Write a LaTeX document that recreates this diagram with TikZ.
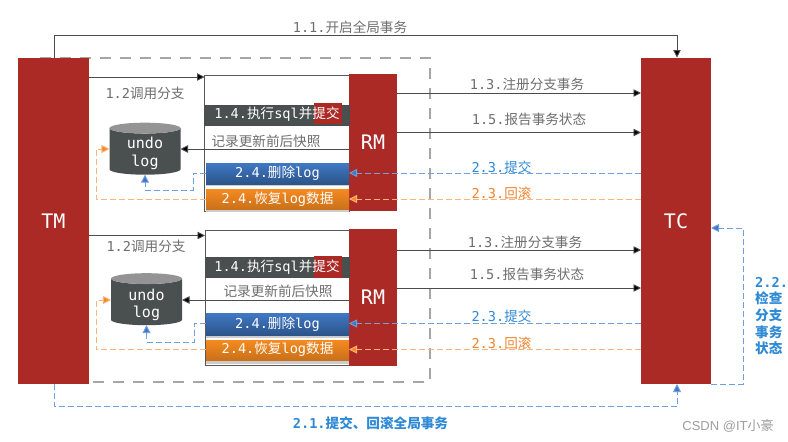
\documentclass[tikz,border=0pt]{standalone}
\usepackage{fontspec}
\setmainfont{DejaVu Sans Mono}
\newfontfamily\mo{DejaVu Sans Mono}
\newfontfamily\cjk{Noto Sans CJK SC}
\newfontfamily\wm{Liberation Sans}
\usetikzlibrary{arrows.meta,shapes.geometric}
\definecolor{brick}{HTML}{AB2A26}
\definecolor{darkbar}{HTML}{4A4F4F}
\definecolor{lblgray}{HTML}{6E6E6E}
\definecolor{lblblue}{HTML}{2F8AD6}
\definecolor{lblorange}{HTML}{F0842C}
\definecolor{dashblue}{HTML}{6F9FDC}
\definecolor{dashorange}{HTML}{FFB27A}
\definecolor{tipblue}{HTML}{3F78C4}
\definecolor{tiporange}{HTML}{F58A20}
\newcommand{\fs}[1]{\fontsize{#1}{#1}\selectfont}
\newcommand{\rectnode}[7]{%
  \pgfmathsetmacro{\cxx}{(#2+#4)/2}\pgfmathsetmacro{\cyy}{(#3+#5)/2}%
  \pgfmathsetmacro{\wdd}{#4-#2}\pgfmathsetmacro{\htt}{#5-#3}%
  \node[#6,minimum width=\wdd pt,minimum height=\htt pt] (#1) at (\cxx,\cyy) {#7};}
\tikzset{
  x=1pt,y=-1pt,
  block/.style={fill=brick,draw=none,inner sep=0pt,outer sep=0pt,text=white,font=\mo\fs{20}},
  whitebox/.style={fill=white,draw=black!65,line width=.9pt,inner sep=0pt,outer sep=0pt},
  barbox/.style={fill=darkbar,draw=black!70,line width=.4pt,inner sep=0pt,outer sep=0pt},
  redpatch/.style={fill=brick,draw=none,inner sep=0pt,outer sep=0pt},
  bluebar/.style={top color=tipblue,bottom color=tipblue!70!black,draw=none,inner sep=0pt,outer sep=0pt},
  orangebar/.style={top color=tiporange,bottom color=tiporange!82!black,draw=none,inner sep=0pt,outer sep=0pt},
  shadowbar/.style={fill=black!20,draw=none,inner sep=0pt,outer sep=0pt},
  lbl/.style={inner sep=0pt,font=\mo\fs{13.6},text=lblgray},
  barlbl/.style={inner sep=0pt,font=\mo\fs{13.6},text=white},
  bluelbl/.style={lbl,text=lblblue},
  orangelbl/.style={lbl,text=lblorange},
  dblbl/.style={inner sep=0pt,text=white,font=\mo\fs{15}},
  solidarrow/.style={draw=black!70,line width=.9pt,-{Triangle[length=7.5pt,width=7.5pt,fill=black]}},
  bluedash/.style={draw=dashblue,line width=.9pt,dash pattern=on 6pt off 3pt,-{Triangle[length=8pt,width=8pt,fill=tipblue]}},
  orangedash/.style={draw=dashorange,line width=.9pt,dash pattern=on 6pt off 3pt,-{Triangle[length=8pt,width=8pt,fill=tiporange]}},
  scopebox/.style={draw=black!35,line width=2.5pt,dash pattern=on 11pt off 9pt},
  undodb/.style={cylinder,shape border rotate=90,aspect=.3,draw=none,inner sep=0pt,outer sep=0pt,
    cylinder uses custom fill,cylinder body fill=darkbar,cylinder end fill=black!42,font=\mo\fs{15},align=center},
}
\begin{document}
\begin{tikzpicture}
\path[use as bounding box,fill=white] (0,0) rectangle (788,442);

% scope
\coordinate (sa) at (40,58); \coordinate (sb) at (430,58);
\coordinate (sc) at (430,382); \coordinate (sd) at (89,382);
\draw[scopebox] (sa) -- (sb) -- (sc) -- (sd);

% main blocks
\rectnode{tm}{18}{57.5}{89}{384}{block}{TM}
\rectnode{tc}{641}{57.5}{711}{384}{block}{TC}

% upper branch
\rectnode{boxa}{204.5}{75}{349}{211}{whitebox}{}
\rectnode{rma}{349}{74}{397}{211}{block}{RM}
\rectnode{bara}{204.5}{105}{349}{125}{barbox}{}
\rectnode{reda}{314}{103}{342}{124}{redpatch}{}
\node[barlbl] (barta) at (277,114.5) {1.4.{\cjk 执行}sql{\cjk 并提交}};
\node[lbl] (snapa) at (266,141) {\cjk 记录更新前后快照};
\rectnode{shba}{206}{182}{349}{186}{shadowbar}{}
\rectnode{blua}{206}{163}{349}{184}{bluebar}{}
\rectnode{shoa}{206}{208}{349}{212}{shadowbar}{}
\rectnode{orna}{206}{189}{349}{209.5}{orangebar}{}
\node[barlbl] (bluta) at (277.5,173.5) {2.4.{\cjk 删除}log};
\node[barlbl] (orlta) at (277.5,199) {2.4.{\cjk 恢复}log{\cjk 数据}};
\node[undodb,minimum width=71pt,minimum height=52pt] (dba) at (145,151.5) {\phantom{undo}\\[5pt]\phantom{log}};
\node[dblbl] (undoa) at (145,143) {undo};
\node[dblbl] (loga) at (145,162) {log};

% lower branch
\rectnode{boxb}{205}{230}{349}{365.5}{whitebox}{}
\rectnode{rmb}{349}{229}{397}{366}{block}{RM}
\rectnode{barb}{205}{257}{349}{277.5}{barbox}{}
\rectnode{redb}{314}{256}{342}{278}{redpatch}{}
\node[barlbl] (bartb) at (277,267) {1.4.{\cjk 执行}sql{\cjk 并提交}};
\node[lbl] (snapb) at (278,291.5) {\cjk 记录更新前后快照};
\rectnode{shbb}{206}{333}{349}{338}{shadowbar}{}
\rectnode{blub}{206}{313.5}{349}{335}{bluebar}{}
\rectnode{shob}{206}{358}{349}{364}{shadowbar}{}
\rectnode{ornb}{206}{340}{349}{360}{orangebar}{}
\node[barlbl] (blutb) at (277.5,324) {2.4.{\cjk 删除}log};
\node[barlbl] (orltb) at (277.5,349.5) {2.4.{\cjk 恢复}log{\cjk 数据}};
\node[undodb,minimum width=71pt,minimum height=52pt] (dbb) at (146.5,302) {\phantom{undo}\\[5pt]\phantom{log}};
\node[dblbl] (undob) at (146.5,295) {undo};
\node[dblbl] (logb) at (146.5,313) {log};

% global begin / end
\coordinate (topl) at (54,35.5); \coordinate (botl) at (54,406.5);
\draw[solidarrow] (54,0 |- tm.north) -- (topl) -- (677,35.5) -- (677,0 |- tc.north);
\draw[bluedash] (54,0 |- tm.south) -- (botl) -- (677,406.5) -- (677,0 |- tc.south);
\node[lbl] (l11) at (350,27) {1.1.{\cjk 开启全局事务}};
\node[bluelbl,font=\mo\fs{13.6}\bfseries] (l21) at (370.5,423) {2.1.{\cjk 提交、回滚全局事务}};

% branch calls
\draw[solidarrow] (tm.east |- 0,77) -- (boxa.west |- 0,77);
\node[lbl] (l12a) at (145,93) {1.2{\cjk 调用分支}};
\draw[solidarrow] (tm.east |- 0,235.5) -- (boxb.west |- 0,235.5);
\node[lbl] (l12b) at (146,246) {1.2{\cjk 调用分支}};

% RM to TC
\draw[solidarrow] (rma.east |- 0,93) -- (tc.west |- 0,93);
\node[lbl] (l13a) at (527,84) {1.3.{\cjk 注册分支事务}};
\draw[solidarrow] (rma.east |- 0,132.5) -- (tc.west |- 0,132.5);
\node[lbl] (l15a) at (529,119) {1.5.{\cjk 报告事务状态}};
\draw[solidarrow] (rmb.east |- 0,250) -- (tc.west |- 0,250);
\node[lbl] (l13b) at (525,242) {1.3.{\cjk 注册分支事务}};
\draw[solidarrow] (rmb.east |- 0,288) -- (tc.west |- 0,288);
\node[lbl] (l15b) at (527,274) {1.5.{\cjk 报告事务状态}};

% TC to RM
\draw[bluedash] (tc.west |- 0,173) -- (blua.east |- 0,173);
\draw[orangedash] (tc.west |- 0,199) -- (orna.east |- 0,199);
\draw[bluedash] (tc.west |- 0,323.5) -- (blub.east |- 0,323.5);
\draw[orangedash] (tc.west |- 0,349.5) -- (ornb.east |- 0,349.5);
\node[bluelbl] (l23a) at (501.5,167) {2.3.{\cjk 提交}};
\node[orangelbl] (l23b) at (501.5,193) {2.3.{\cjk 回滚}};
\node[bluelbl] (l23c) at (501.5,316) {2.3.{\cjk 提交}};
\node[orangelbl] (l23d) at (501.5,343) {2.3.{\cjk 回滚}};

% snapshots
\draw[solidarrow] (boxa.east |- 0,149) -- (dba.east |- 0,149);
\draw[solidarrow] (boxb.east |- 0,300) -- (dbb.east |- 0,300);

% undo and restore
\draw[bluedash] (blua.west |- 0,173) -- (193,173) -- (193,190) -- (145,190) -- (145,0 |- dba.south);
\draw[orangedash] (orna.west |- 0,199) -- (96,199) -- (96,149) -- (dba.west |- 0,149);
\draw[bluedash] (blub.west |- 0,323.5) -- (194,323.5) -- (194,342) -- (146.5,342) -- (146.5,0 |- dbb.south);
\draw[orangedash] (ornb.west |- 0,349.5) -- (96,349.5) -- (96,300) -- (dbb.west |- 0,300);

% TC self check
\draw[bluedash] (tc.south east) -- (743,384) -- (743,228) -- (tc.east |- 0,228);
\node[bluelbl,align=left,anchor=north west,font=\mo\fs{13.6}\bfseries] (l22) at (755,277) {2.2.\\[3pt]{\cjk 检查}\\[3pt]{\cjk 分支}\\[3pt]{\cjk 事务}\\[3pt]{\cjk 状态}};

% watermark
\node[inner sep=0pt,text=black!38,font=\wm\fs{13}] (wm) at (728,426) {CSDN @IT{\cjk 小豪}};
\end{tikzpicture}
\end{document}
